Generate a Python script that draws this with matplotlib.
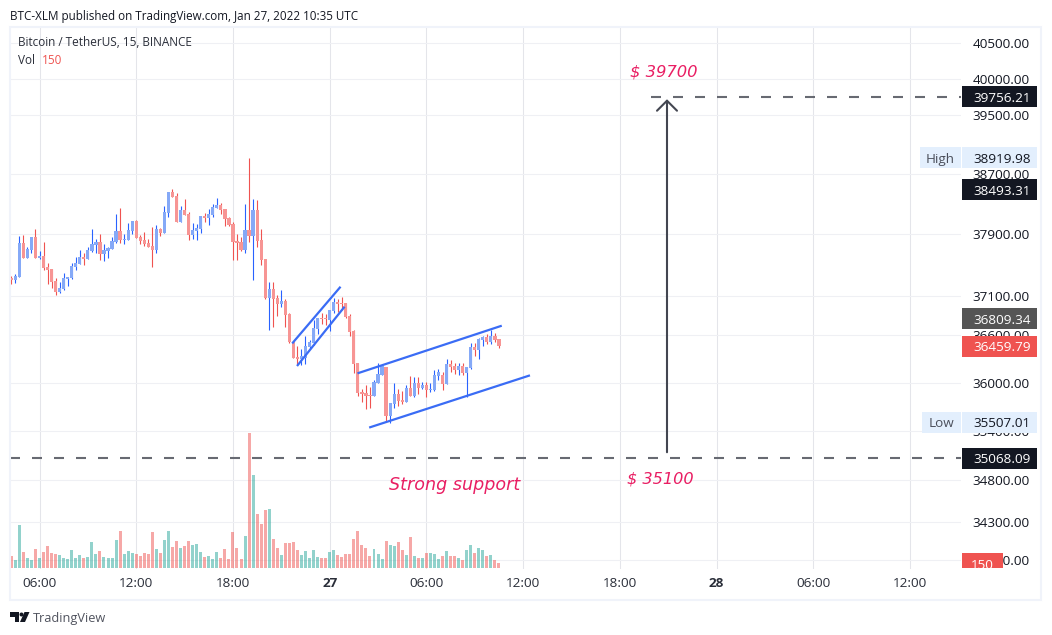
import matplotlib
matplotlib.use("Agg")
import matplotlib.pyplot as plt
from matplotlib.patches import Rectangle, Polygon, Circle
from matplotlib.transforms import IdentityTransform, Bbox
import numpy as np

W, H = 1052, 635
plt.rcParams['font.family'] = ['Open Sans', 'DejaVu Sans']

# 15 min candles, bar 0 is 04:15 on the 26th
opens = [37332,37306,37345,37787,37591,37695,37867,37591,37617,37475,37449,37293,37150,37189,37319,37332,37475,37514,37604,37578,
         37682,37761,37801,37643,37682,37708,37801,37946,37827,37827,37946,38078,37867,37827,37787,37748,37695,37972,37919,38183,
         38463,38409,38065,38223,38170,37893,37946,37972,38144,38117,38157,38249,38289,38236,38117,38038,37814,37801,37695,37959,
         37880,38223,37827,37578,37072,37189,37072,36996,37034,36869,36511,36321,36296,36309,36447,36498,36677,36817,36817,36792,
         36907,37021,37009,37009,36843,36652,36246,35883,35871,35845,35833,35996,36096,36196,35586,35734,35858,35783,35759,35934,
         35833,35996,35934,35971,35909,35909,36084,36096,35984,36234,36209,36159,36209,36121,36184,36447,36409,36537,36575,36511,
         36588,36550]
highs = [37358,37384,37880,37893,37735,37867,37972,37682,37801,37527,37449,37332,37280,37397,37345,37527,37604,37695,37656,37735,
         37972,37840,37906,37774,37735,37867,38170,38249,37906,38051,38078,38091,37893,37933,37840,37999,38025,37985,38276,38463,
         38503,38450,38276,38369,38197,38051,38038,38144,38183,38236,38302,38382,38315,38236,38131,38065,37906,37867,38302,38920,
         38369,38355,37972,37578,37280,37280,37111,37176,37059,36881,36511,36460,36422,36588,36537,36792,36817,36881,36869,36919,
         37072,37059,37084,37009,36869,36665,36246,35921,35971,35946,36034,36246,36209,36196,35746,35996,35921,35896,35971,36084,
         36071,36071,36009,36009,35996,36159,36171,36134,36296,36284,36246,36246,36246,36196,36498,36498,36562,36588,36613,36665,
         36626,36550]
lows = [37254,37271,37345,37591,37591,37656,37591,37578,37436,37254,37202,37111,37137,37176,37228,37319,37436,37514,37501,37578,
        37669,37656,37565,37552,37591,37708,37787,37787,37774,37827,37906,37853,37774,37748,37735,37475,37656,37880,37919,38131,
        38396,38065,38065,38157,37827,37840,37827,37919,38065,38025,38131,38249,38170,38012,38012,37565,37565,37682,37656,37801,
        37306,37735,37501,37059,36665,36703,36843,36958,36703,36498,36309,36234,36221,36234,36422,36473,36613,36741,36728,36652,
        36881,36894,36919,36817,36588,36121,35833,35759,35672,35685,35833,35996,36096,35525,35500,35685,35709,35734,35759,35833,
        35821,35858,35921,35821,35883,35896,36034,35909,35984,36134,36109,36096,36096,35821,36171,36334,36296,36460,36486,36486,
        36511,36434]
closes = [37306,37358,37787,37591,37708,37867,37591,37617,37462,37436,37280,37150,37202,37332,37345,37488,37527,37604,37578,37695,
          37774,37801,37643,37695,37721,37814,37946,37827,37840,37959,38078,37853,37814,37774,37735,37695,37972,37919,38197,38463,
          38396,38065,38223,38157,37893,37959,37985,38144,38117,38170,38263,38289,38223,38104,38025,37801,37787,37695,37959,37880,
          38223,37814,37565,37072,37189,37059,36996,37034,36856,36511,36309,36296,36334,36460,36511,36690,36817,36800,36800,36919,
          37021,36996,36992,36830,36639,36234,35871,35858,35833,35833,36009,36109,36209,35586,35746,35858,35771,35759,35934,35833,
          35996,35934,35971,35909,35921,36096,36134,35984,36234,36196,36159,36209,36121,36196,36447,36409,36550,36575,36511,36588,
          36537,36460]
volumes = [360,240,1290,480,300,240,570,300,480,660,450,420,390,300,270,540,300,390,300,330,
           780,420,510,330,300,300,840,1110,420,510,450,420,360,450,420,1080,570,450,840,1110,
           630,810,600,660,810,690,720,480,330,360,270,480,300,570,270,1080,600,270,960,4050,
           2790,1620,1320,1740,1770,870,600,390,750,750,780,540,390,510,300,540,330,300,300,480,
           540,390,330,420,420,870,1110,690,600,360,570,420,270,810,690,660,780,540,390,930,
           360,300,300,450,450,420,270,360,510,360,360,300,240,540,690,450,600,540,360,390,
           240,150]

price_ticks = [40500, 40000, 39500, 38700, 37900, 37100, 36600, 36000, 35400, 34800, 34300, 33850]
price_labels = ['40500.00', '40000.00', '39500.00', '38700.00', '37900.00', '37100.00', '36600.00',
                '36000.00', '35400.00', '34800.00', '34300.00', '33800.00']
time_ticks = [7, 31, 55, 79, 103, 127, 151, 175, 199, 223]
time_labels = ['06:00', '12:00', '18:00', '27', '06:00', '12:00', '18:00', '28', '06:00', '12:00']

# drawings: (bar, price) at both ends
small_upper = ([69.7, 81.7], [36494, 37219])
small_lower = ([70.9, 82.7], [36209, 36962])
big_upper = ([85.9, 121.7], [36117, 36719])
big_lower = ([88.8, 128.7], [35444, 36092])
target_level = 39756.21
support_level = 35068.09

BLUE, RED = '#2962ff', '#ef5350'
BLUE_BODY, RED_BODY = '#85a9f7', '#f79594'
TEXT = '#131722'
PINK = '#e91e63'
LABEL_SIZE = 9.7

opens, highs, lows, closes = map(np.array, (opens, highs, lows, closes))
bars = np.arange(len(opens))
up = closes >= opens

fig = plt.figure(figsize=(W / 100, H / 100), dpi=100, facecolor='white')
ax = fig.add_axes([10 / W, (H - 569) / H, 951 / W, 542 / H])
ax.set_yscale('log')

# wicks and bodies
ax.vlines(bars[up], lows[up], highs[up], color=BLUE, lw=0.8, zorder=3)
ax.vlines(bars[~up], lows[~up], highs[~up], color=RED, lw=0.8, zorder=3)
top = np.maximum(opens, closes)
bottom = np.minimum(opens, closes)
ax.bar(bars, top - bottom, bottom=bottom, width=0.8, color=np.where(up, BLUE_BODY, RED_BODY), lw=0, zorder=4)

# trend lines
for line in (small_upper, small_lower, big_upper, big_lower):
    ax.plot(line[0], line[1], color='#3a6cf5', lw=1.6, zorder=5, solid_capstyle='butt')

dash = (0, (4.8, 5.76))
ax.plot([158.7, 236], [target_level, target_level], color='#676a72', lw=1.5, ls=dash, dash_capstyle='butt', zorder=5)
ax.plot([-0.3, 236], [support_level, support_level], color='#676a72', lw=1.5, ls=dash, dash_capstyle='butt', zorder=5)
ax.annotate('', xy=(162.7, 39720), xytext=(162.7, 35142),
            arrowprops=dict(arrowstyle='->,head_length=0.72,head_width=0.72', color='#434651', lw=1.5,
                            shrinkA=0, shrinkB=0), zorder=5)

ax.text(153.6, 39993, '$ 39700', color=PINK, style='italic', fontsize=11.8, family='DejaVu Sans', va='bottom', ha='left')
ax.text(152.7, 34820, '$ 35100', color=PINK, style='italic', fontsize=11.6, family='DejaVu Sans', va='center', ha='left')
ax.text(93.6, 34740, 'Strong support', color=PINK, style='italic', fontsize=12.6, family='DejaVu Sans', va='center', ha='left')

ax.set_xlim(-0.32, 235.65)
ax.set_ylim(33747, 40728)
ax.set_yticks(price_ticks)
ax.set_yticklabels(price_labels, fontsize=LABEL_SIZE, color=TEXT)
ax.minorticks_off()
ax.set_xticks(time_ticks)
ax.set_xticklabels(time_labels, fontsize=LABEL_SIZE, color='#2a2e39')
for lab in ax.get_xticklabels():
    if lab.get_text() in ('27', '28'):
        lab.set_fontweight('bold')
ax.grid(True, axis='x', color='#e4e5ea', lw=0.75, zorder=0)
ax.grid(True, axis='y', color='#eff0f4', lw=0.75, zorder=0)
ax.set_axisbelow(True)
for s in ax.spines.values():
    s.set_visible(False)

# volume pane, same x, bottom of the chart
ax_vol = ax.twinx()
vol_colors = [(38 / 255, 166 / 255, 154 / 255, 0.5) if u else (239 / 255, 83 / 255, 80 / 255, 0.5) for u in up]
ax_vol.bar(bars, volumes, width=0.74, color=vol_colors, lw=0)
ax_vol.set_ylim(-30, 16230)
ax_vol.set_yticks([])
for s in ax_vol.spines.values():
    s.set_visible(False)

# twinx moves the price ticks back to the left
ax.yaxis.tick_right()
ax.tick_params(axis='y', which='both', length=0, pad=8.4)
ax.tick_params(axis='x', length=0, pad=5.5)


def px(x, y):
    return x, H - y


def box(x0, y0, x1, y1, color, **kw):
    fig.add_artist(Rectangle(px(x0, y1), x1 - x0, y1 - y0, transform=IdentityTransform(),
                             facecolor=color, edgecolor='none', **kw))


def price_tag(price, label, bg, fg, side=None, side_w=40):
    y = H - ax.transData.transform((0, price))[1]
    box(962, y - 10.5, 1037, y + 10.5, bg, zorder=4)
    fig.text(1031 / W, (H - y) / H, label, color=fg, fontsize=LABEL_SIZE, ha='right', va='center_baseline', zorder=5)
    if side:
        box(961 - side_w, y - 10.5, 961, y + 10.5, bg, zorder=4)
        fig.text((961 - side_w / 2) / W, (H - y) / H, side, color='#4a4e5a', fontsize=LABEL_SIZE, ha='center', va='center_baseline', zorder=5)


price_tag(target_level, '39756.21', TEXT, 'white')
price_tag(38919.98, '38919.98', '#e3effd', TEXT, 'High', 41)
price_tag(38493.31, '38493.31', TEXT, 'white')
price_tag(36809.34, '36809.34', '#555555', 'white')
price_tag(36459.79, '36459.79', RED, 'white')
price_tag(35507.01, '35507.01', '#e3effd', TEXT, 'Low', 39)
price_tag(support_level, '35068.09', TEXT, 'white')

# last volume tag is cut by the pane edge
box(962, 553, 1003, 568, RED, zorder=4)
vol_tag = fig.text(982.5 / W, (H - 564) / H, str(volumes[-1]), color='white', fontsize=LABEL_SIZE, ha='center', va='center_baseline', zorder=5)
vol_tag.set_clip_box(Bbox([[962, H - 568], [1003, H - 553]]))
vol_tag.set_clip_on(True)

# outer frame
fig.add_artist(Rectangle(px(10, 600), 1031, 573, transform=IdentityTransform(), facecolor='none',
                         edgecolor='#f0f3fa', lw=1.5, zorder=2))

# header and footer
fig.text(10 / W, (H - 15) / H, 'BTC-XLM published on TradingView.com, Jan 27, 2022 10:35 UTC',
         color=TEXT, fontsize=8.4, va='center_baseline')
fig.text(18 / W, (H - 41) / H, 'Bitcoin / TetherUS, 15, BINANCE', color='#2a2e39', fontsize=8.5, va='center_baseline', zorder=5)
fig.text(18 / W, (H - 59) / H, 'Vol', color='#2a2e39', fontsize=8.5, va='center_baseline', zorder=5)
fig.text(42 / W, (H - 59) / H, '150', color=RED, fontsize=8.5, va='center_baseline', zorder=5)

for pts in ([(10, 612), (19, 612), (19, 622), (14.5, 622), (14.5, 617), (10, 617)],
            [(24.5, 612), (29.5, 612), (25, 622), (20, 622)]):
    fig.add_artist(Polygon([px(*p) for p in pts], closed=True, transform=IdentityTransform(), facecolor=TEXT, edgecolor='none'))
fig.add_artist(Circle(px(21.5, 614.5), 2, transform=IdentityTransform(), facecolor=TEXT, edgecolor='none'))
fig.text(33 / W, (H - 617) / H, 'TradingView', color='#50535e', fontsize=9.2, va='center_baseline')

fig.savefig('out.png', dpi=100)
